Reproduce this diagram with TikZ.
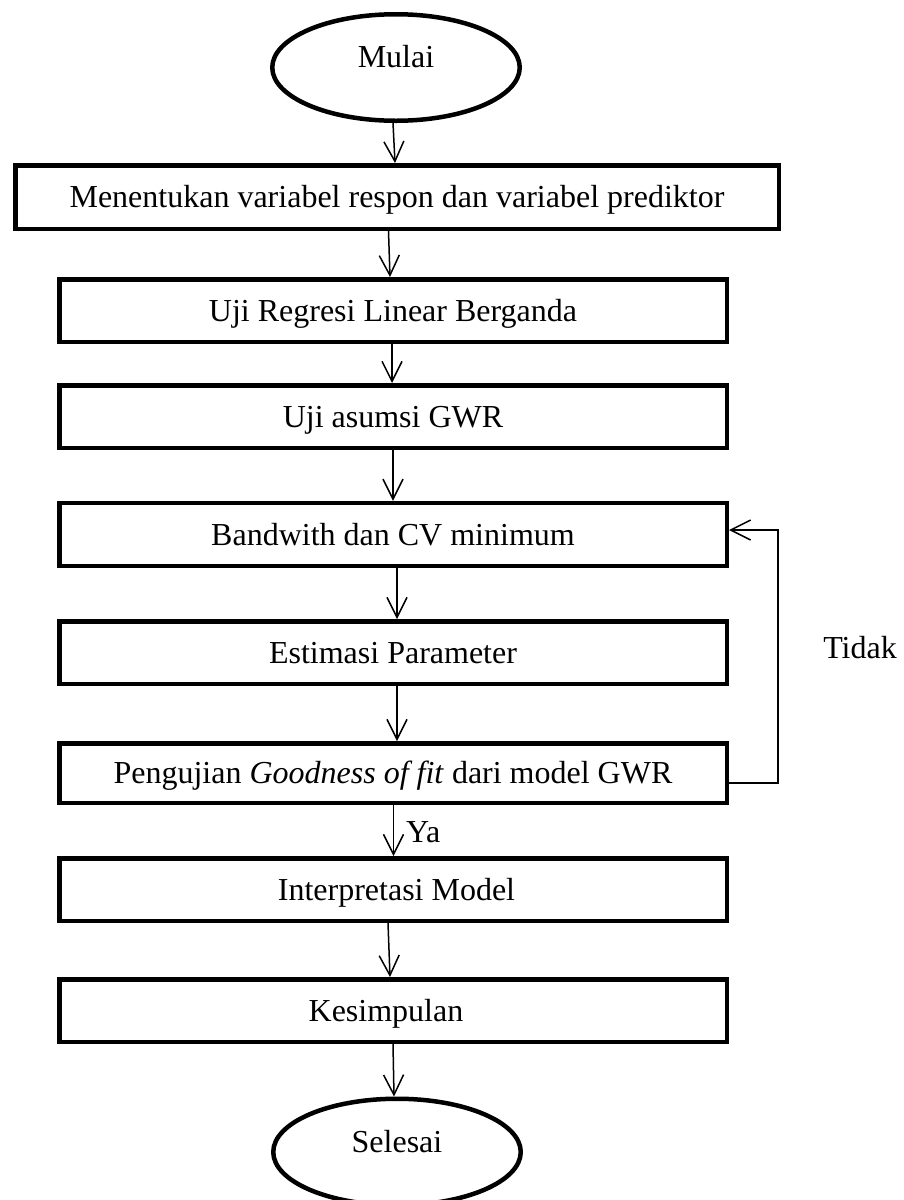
\documentclass[tikz,border=0pt]{standalone}
\usepackage{fontspec}
\setmainfont{Liberation Serif}
\usetikzlibrary{arrows.meta,shapes.geometric,calc}
\begin{document}
\begin{tikzpicture}[x=1pt,y=-1pt,
  every node/.style={font=\fontsize{32}{38}\selectfont},
  procbox/.style={draw, line width=4.5pt, rectangle, inner sep=0pt,
     minimum width=667.5pt, minimum height=62.5pt, text height=21pt, text depth=0pt},
  term/.style={draw, line width=4.5pt, ellipse, inner sep=0pt,
     minimum width=247.5pt, minimum height=106.5pt, text height=21pt, text depth=21pt},
  flow/.style={line width=1.5pt, -{Straight Barb[length=20pt,width=20pt,line width=1.5pt]}},
  lbl/.style={inner sep=0pt, text height=21pt, text depth=0pt}]
\useasboundingbox (0,0) rectangle (904,1200);

\node[term] (mulai) at (396,67.5) {Mulai};
\node[procbox, minimum width=763.5pt, minimum height=63.5pt] (b1) at (397,197)
  {Menentukan variabel respon dan variabel prediktor};
\node[procbox] (b2) at (393,310.5) {Uji Regresi Linear Berganda};
\node[procbox] (b3) at (393,416.5) {Uji asumsi GWR};
\node[procbox, minimum height=63pt] (b4) at (393,534.5) {Bandwith dan CV minimum};
\node[procbox] (b5) at (393,652.5) {Estimasi Parameter};
\node[procbox, minimum height=59.5pt] (b6) at (393,773)
  {Pengujian \textit{Goodness of fit} dari model GWR};
\node[procbox] (b7) at (393,889.5) {\hspace*{7pt}Interpretasi Model};
\node[procbox] (b8) at (393,1010.5) {Kesimpulan\hspace*{14pt}};
\node[term] (selesai) at (397,1152) {Selesai};

\draw[flow] ($(mulai.south)+(-3,0)$) -- ($(b1.north)+(-2,0)$);
\draw[flow] ($(b1.south)+(-8.5,0)$) -- ($(b2.north)+(-3,0)$);
\draw[flow] ($(b2.south)+(-1,0)$) -- ($(b3.north)+(-1,0)$);
\draw[flow] (b3.south) -- (b4.north);
\draw[flow] ($(b4.south)+(4,0)$) -- ($(b5.north)+(4,0)$);
\draw[flow] ($(b5.south)+(4,0)$) -- ($(b6.north)+(4,0)$);
\draw[flow] ($(b6.south)+(0.5,0)$) -- ($(b7.north)+(0.5,0)$);
\draw[flow] ($(b7.south)+(-5,0)$) -- ($(b8.north)+(-3,0)$);
\draw[flow] ($(b8.south)+(0,0)$) -- ($(selesai.north)+(-3,0)$);

\node[lbl, anchor=west] (ya) at (406,832) {Ya};
\draw[flow] ($(b6.east)+(0,10)$) -- ++(49,0) |- ($(b4.east)+(0,-4.5)$);
\node[lbl] (tidak) at (860,648) {Tidak};
\end{tikzpicture}
\end{document}
